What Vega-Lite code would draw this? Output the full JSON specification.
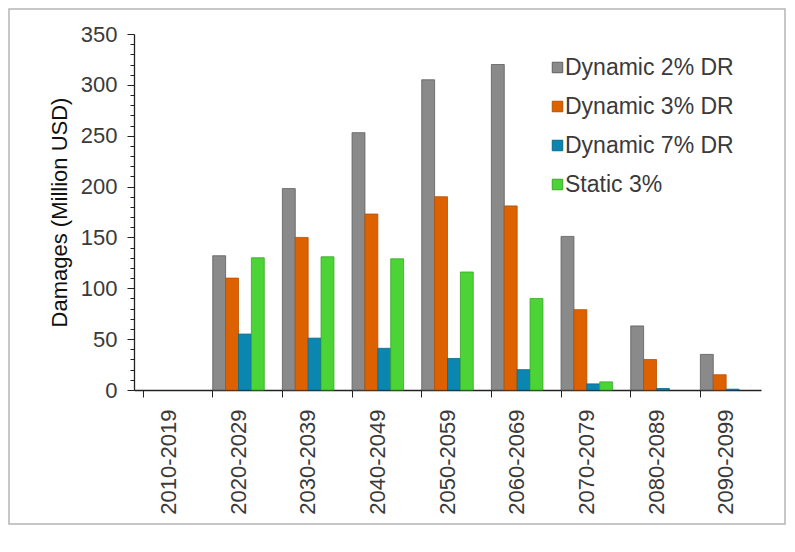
{
  "$schema": "https://vega.github.io/schema/vega-lite/v6.json",
  "autosize": {"type": "none"},
  "padding": {"left": 9, "top": 9, "right": 10, "bottom": 28},
  "width": 776,
  "height": 515,
  "background": "white",
  "config": {
    "view": {"stroke": "#b5b5b5", "strokeWidth": 1.5},
    "font": "Liberation Sans"
  },
  "data": {
    "values": [
      {"decade": "2010-2019", "series": "Dynamic 2% DR", "value": 0},
      {"decade": "2010-2019", "series": "Dynamic 3% DR", "value": 0},
      {"decade": "2010-2019", "series": "Dynamic 7% DR", "value": 0},
      {"decade": "2010-2019", "series": "Static 3%", "value": 0},
      {"decade": "2020-2029", "series": "Dynamic 2% DR", "value": 132},
      {"decade": "2020-2029", "series": "Dynamic 3% DR", "value": 110},
      {"decade": "2020-2029", "series": "Dynamic 7% DR", "value": 55},
      {"decade": "2020-2029", "series": "Static 3%", "value": 130},
      {"decade": "2030-2039", "series": "Dynamic 2% DR", "value": 198},
      {"decade": "2030-2039", "series": "Dynamic 3% DR", "value": 150},
      {"decade": "2030-2039", "series": "Dynamic 7% DR", "value": 51},
      {"decade": "2030-2039", "series": "Static 3%", "value": 131},
      {"decade": "2040-2049", "series": "Dynamic 2% DR", "value": 253},
      {"decade": "2040-2049", "series": "Dynamic 3% DR", "value": 173},
      {"decade": "2040-2049", "series": "Dynamic 7% DR", "value": 41},
      {"decade": "2040-2049", "series": "Static 3%", "value": 129},
      {"decade": "2050-2059", "series": "Dynamic 2% DR", "value": 305},
      {"decade": "2050-2059", "series": "Dynamic 3% DR", "value": 190},
      {"decade": "2050-2059", "series": "Dynamic 7% DR", "value": 31},
      {"decade": "2050-2059", "series": "Static 3%", "value": 116},
      {"decade": "2060-2069", "series": "Dynamic 2% DR", "value": 320},
      {"decade": "2060-2069", "series": "Dynamic 3% DR", "value": 181},
      {"decade": "2060-2069", "series": "Dynamic 7% DR", "value": 20},
      {"decade": "2060-2069", "series": "Static 3%", "value": 90},
      {"decade": "2070-2079", "series": "Dynamic 2% DR", "value": 151},
      {"decade": "2070-2079", "series": "Dynamic 3% DR", "value": 79},
      {"decade": "2070-2079", "series": "Dynamic 7% DR", "value": 6},
      {"decade": "2070-2079", "series": "Static 3%", "value": 8},
      {"decade": "2080-2089", "series": "Dynamic 2% DR", "value": 63},
      {"decade": "2080-2089", "series": "Dynamic 3% DR", "value": 30},
      {"decade": "2080-2089", "series": "Dynamic 7% DR", "value": 1.5},
      {"decade": "2080-2089", "series": "Static 3%", "value": 0},
      {"decade": "2090-2099", "series": "Dynamic 2% DR", "value": 35},
      {"decade": "2090-2099", "series": "Dynamic 3% DR", "value": 15},
      {"decade": "2090-2099", "series": "Dynamic 7% DR", "value": 0.8},
      {"decade": "2090-2099", "series": "Static 3%", "value": 0}
    ]
  },
  "mark": {"type": "bar", "strokeOpacity": 0.8},
  "encoding": {
    "x": {
      "field": "decade",
      "type": "nominal",
      "scale": {"paddingInner": 0.26, "paddingOuter": 0.13, "range": [125, 752]},
      "axis": {
        "title": null,
        "offset": -134,
        "bandPosition": 0,
        "labelAngle": -90,
        "labelAlign": "right",
        "labelBaseline": "middle",
        "labelFontSize": 22,
        "labelColor": "#3a3a3a",
        "labelPadding": 12,
        "tickSize": 7,
        "tickColor": "#222",
        "domainColor": "#222",
        "domainWidth": 1.3
      }
    },
    "xOffset": {"field": "series", "type": "nominal", "scale": {"paddingInner": 0, "paddingOuter": 0}},
    "y": {
      "field": "value",
      "type": "quantitative",
      "scale": {"domain": [0, 350], "nice": false, "range": [381, 25]},
      "axis": {
        "title": "Damages (Million USD)",
        "offset": -125,
        "titleFontSize": 22,
        "titleFontWeight": "normal",
        "titleColor": "#111",
        "titlePadding": 9,
        "values": [0,10,20,30,40,50,60,70,80,90,100,110,120,130,140,150,160,170,180,190,200,210,220,230,240,250,260,270,280,290,300,310,320,330,340,350],
        "labelExpr": "datum.value % 50 === 0 ? datum.label : ''",
        "labelFontSize": 22,
        "labelColor": "#3a3a3a",
        "labelPadding": 10,
        "tickSize": {"condition": {"test": "datum.value % 50 === 0", "value": 7}, "value": 4},
        "tickColor": "#222",
        "domainColor": "#222",
        "domainWidth": 1.3,
        "grid": false
      }
    },
    "strokeWidth": {"condition": {"test": "datum.value > 0", "value": 1}, "value": 0},
    "color": {
      "field": "series",
      "type": "nominal",
      "scale": {
        "domain": ["Dynamic 2% DR", "Dynamic 3% DR", "Dynamic 7% DR", "Static 3%"],
        "range": ["#8a8a8a", "#de6100", "#0b86b1", "#4cd335"]
      },
      "legend": {
        "title": null,
        "orient": "none",
        "legendX": 537,
        "legendY": 47,
        "symbolType": "square",
        "symbolSize": 110,
        "symbolStrokeColor": "#777",
        "symbolStrokeWidth": 1,
        "labelFontSize": 23,
        "labelColor": "#3a3a3a",
        "labelOffset": -4,
        "rowPadding": 15,
        "labelLimit": 300
      }
    },
    "stroke": {
      "field": "series",
      "type": "nominal",
      "scale": {
        "domain": ["Dynamic 2% DR", "Dynamic 3% DR", "Dynamic 7% DR", "Static 3%"],
        "range": ["#5e5e5e", "#b84f00", "#08688a", "#3aa828"]
      },
      "legend": null
    }
  }
}
